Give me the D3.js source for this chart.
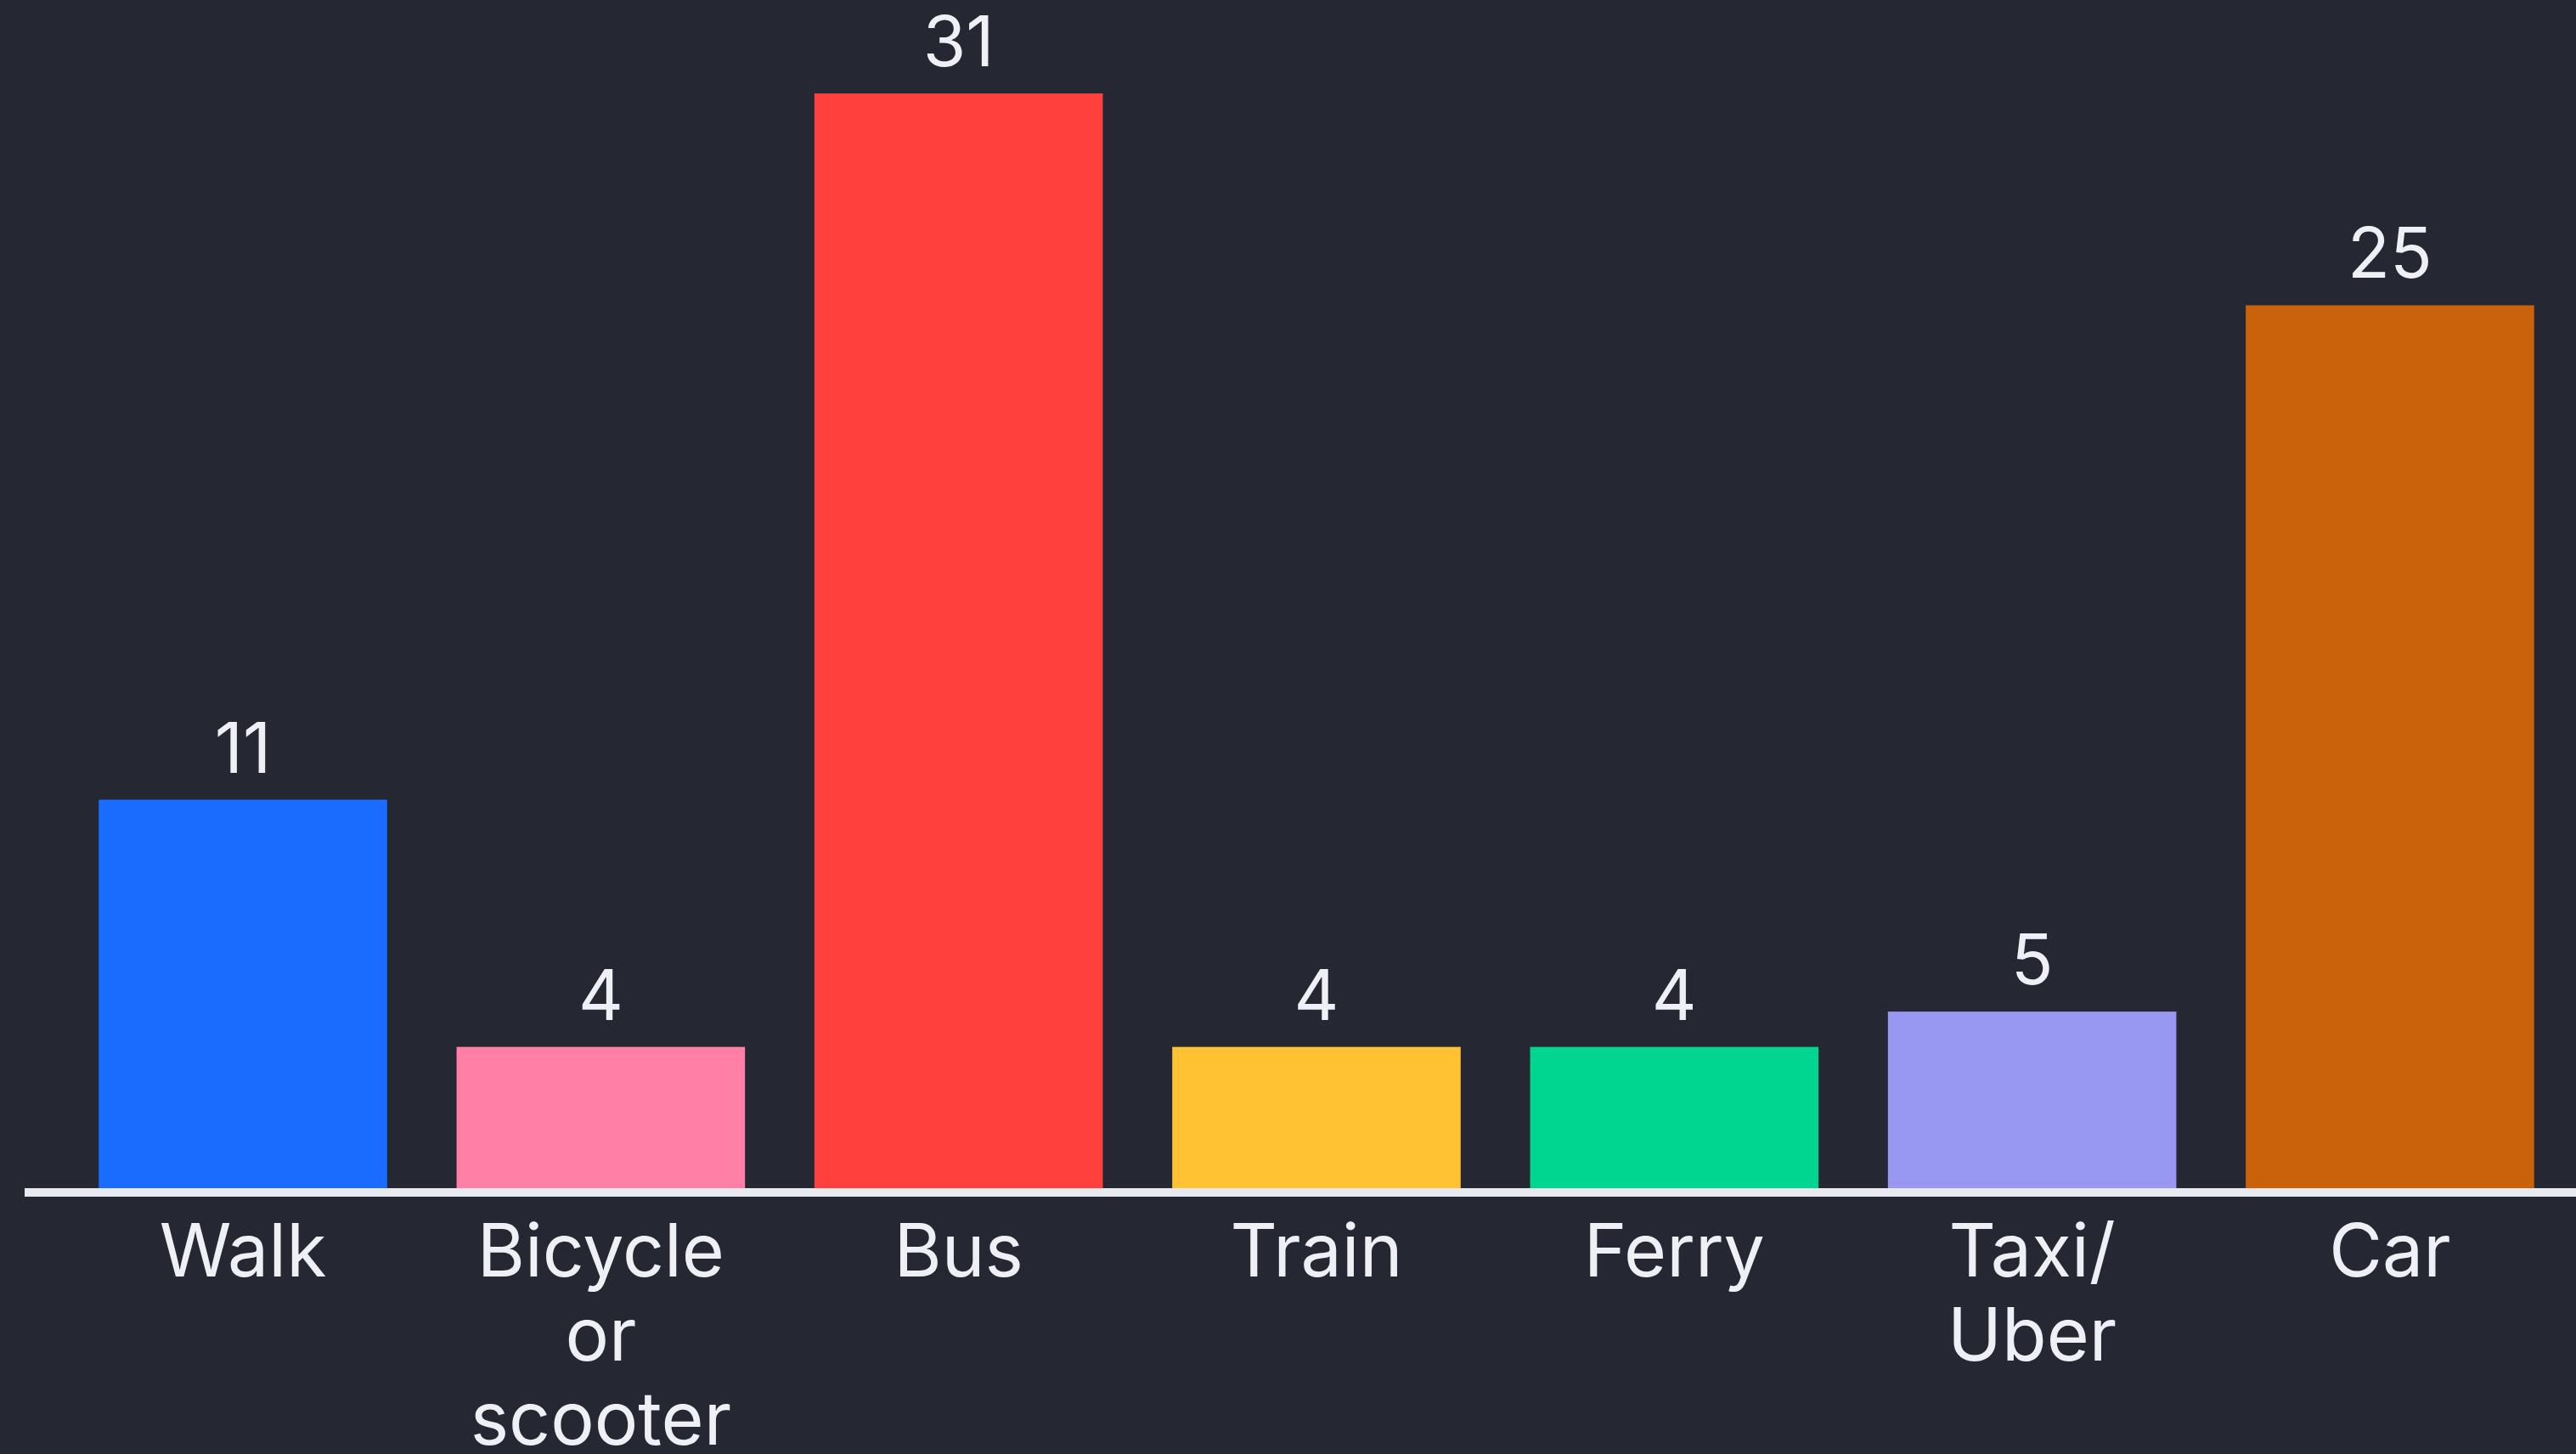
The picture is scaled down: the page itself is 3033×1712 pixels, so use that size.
<!DOCTYPE html>
<html>
<head>
<meta charset="utf-8">
<script src="https://cdn.jsdelivr.net/npm/d3@7"></script>
<style>
  html, body { margin: 0; padding: 0; background: #252833; }
  svg { display: block; }
</style>
</head>
<body>
<script>
const categories = ["Walk", "Bicycle or scooter", "Bus", "Train", "Ferry", "Taxi/ Uber", "Car"];
const labelLines = [["Walk"], ["Bicycle", "or", "scooter"], ["Bus"], ["Train"], ["Ferry"], ["Taxi/", "Uber"], ["Car"]];
const values = [11, 4, 31, 4, 4, 5, 25];
const colors = ["#1a6bff", "#ff7fa6", "#ff403d", "#ffc233", "#00d68f", "#9898f2", "#c9630b"];

const W = 3033, H = 1712;
const svg = d3.select("body").append("svg").attr("width", W).attr("height", H);
svg.append("rect").attr("width", W).attr("height", H).attr("fill", "#252833");

const x = d3.scaleBand().domain(categories).range([32, 3068]).paddingInner(0.194).paddingOuter(0.2);
const y = d3.scaleLinear().domain([0, 31]).range([1399, 110]);

const font = "Inter, 'Noto Sans', sans-serif";

svg.append("g").selectAll("rect").data(values).join("rect")
  .attr("x", (d, i) => x(categories[i]))
  .attr("y", d => y(d))
  .attr("width", x.bandwidth())
  .attr("height", d => y(0) - y(d))
  .attr("fill", (d, i) => colors[i]);

svg.append("g").selectAll("text").data(values).join("text")
  .attr("x", (d, i) => x(categories[i]) + x.bandwidth() / 2)
  .attr("y", d => y(d) - 32)
  .attr("text-anchor", "middle")
  .attr("fill", "#eef0f5")
  .attr("font-family", font)
  .attr("font-size", 82)
  .text(d => d);

// baseline axis
const axis = d3.axisBottom(x).tickSize(0).tickFormat("");
const ag = svg.append("g").attr("transform", `translate(0,${y(0) + 5})`).call(axis);
ag.select(".domain").attr("stroke", "#e8eaf0").attr("stroke-width", 10).attr("d", "M29,0H3033");

const lab = svg.append("g").selectAll("text").data(categories).join("text")
  .attr("x", d => x(d) + x.bandwidth() / 2)
  .attr("y", 1503)
  .attr("text-anchor", "middle")
  .attr("fill", "#eef0f5")
  .attr("font-family", font)
  .attr("font-size", 86);
lab.each(function(d, i) {
  d3.select(this).selectAll("tspan").data(labelLines[i]).join("tspan")
    .attr("x", x(d) + x.bandwidth() / 2)
    .attr("dy", (t, j) => j === 0 ? 0 : 99)
    .text(t => t);
});
</script>
</body>
</html>
